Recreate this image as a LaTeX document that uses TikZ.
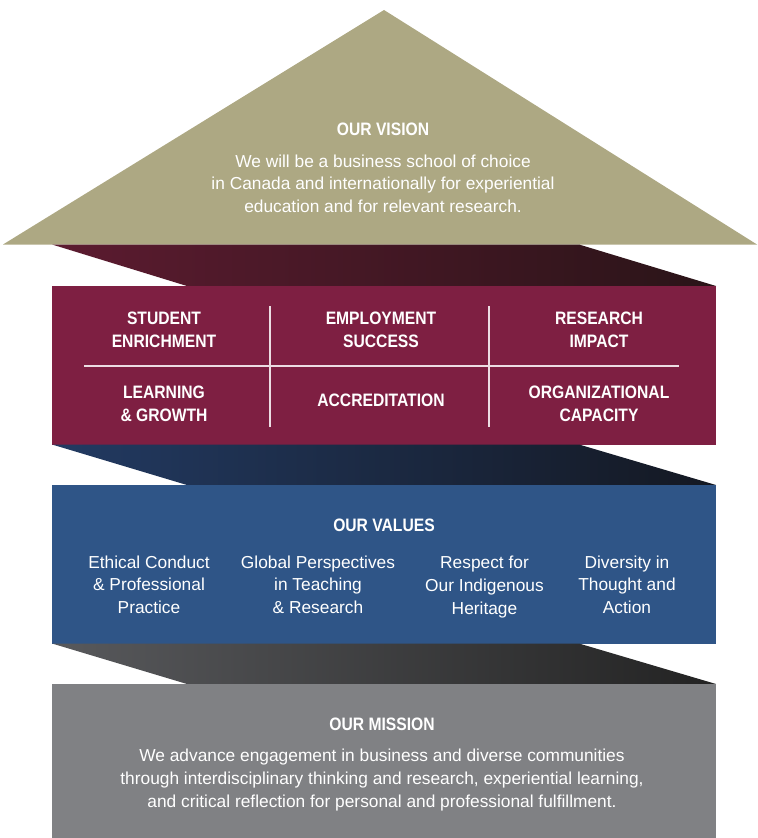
\documentclass[tikz,border=0pt]{standalone}
\usepackage{fontspec}
\setmainfont{Liberation Sans}
\newfontfamily\headfont[FakeStretch=0.87]{Liberation Sans}
\usepackage{tikz}

\definecolor{visiongold}{RGB}{173,168,131}
\definecolor{goalmaroon}{RGB}{126,31,66}
\definecolor{valueblue}{RGB}{47,85,135}
\definecolor{missiongrey}{RGB}{128,129,132}

\tikzset{
	headtext/.style={text=white,font=\headfont\bfseries\fontsize{13.5}{17.5}\selectfont,align=center,inner sep=0pt},
	bodytext/.style={text=white,font=\fontsize{13}{16.9}\selectfont,align=center,inner sep=0pt},
	gridline/.style={draw=white!85!goalmaroon,line width=0.8pt}
}

\begin{document}
\begin{tikzpicture}[x=0.75pt,y=0.75pt,yscale=-1,xscale=1]
	\useasboundingbox (0,0) rectangle (757,838);
	
	%Shape: Triangle [id:vision]
	\fill [visiongold] (384,10) -- (757,244.5) -- (3,244.5) -- cycle ;
	%Shape: Parallelogram [id:band1]
	\shade [left color={rgb,255:red,92;green,27;blue,48}, middle color={rgb,255:red,67;green,15;blue,32}, right color={rgb,255:red,42;green,20;blue,24}] (52,244.5) -- (579,244.5) -- (716,286) -- (187,286) -- cycle ;
	%Shape: Rectangle [id:goals]
	\fill [goalmaroon] (52,286) rectangle (716,444.5) ;
	%Straight Lines [id:grid]
	\draw [gridline] (270,306) -- (270,427) ;
	\draw [gridline] (489,306) -- (489,427) ;
	\draw [gridline] (84,366) -- (679,366) ;
	%Shape: Parallelogram [id:band2]
	\shade [left color={rgb,255:red,34;green,58;blue,98}, middle color={rgb,255:red,11;green,26;blue,56}, right color={rgb,255:red,20;green,24;blue,34}] (52,444.5) -- (579,444.5) -- (716,485) -- (187,485) -- cycle ;
	%Shape: Rectangle [id:values]
	\fill [valueblue] (52,485) rectangle (716,643.5) ;
	%Shape: Parallelogram [id:band3]
	\shade [left color={rgb,255:red,88;green,89;blue,92}, middle color={rgb,255:red,56;green,56;blue,58}, right color={rgb,255:red,35;green,35;blue,35}] (52,643.5) -- (579,643.5) -- (716,684) -- (187,684) -- cycle ;
	%Shape: Rectangle [id:mission]
	\fill [missiongrey] (52,684) rectangle (716,838) ;
	
	% Text Node
	\draw (383,129) node (visionhead) [headtext] {OUR VISION};
	% Text Node
	\draw (383,183.5) node (visionbody) [bodytext] {We will be a business school of choice\\in Canada and internationally for experiential\\education and for relevant research.};
	% Text Node
	\draw (164,330) node (enrich) [headtext] {STUDENT\\ENRICHMENT};
	% Text Node
	\draw (381,330) node (employ) [headtext] {EMPLOYMENT\\SUCCESS};
	% Text Node
	\draw (599,330) node (research) [headtext] {RESEARCH\\IMPACT};
	% Text Node
	\draw (164,404) node (learning) [headtext] {LEARNING\\\& GROWTH};
	% Text Node
	\draw (381,400) node (accred) [headtext] {ACCREDITATION};
	% Text Node
	\draw (599,404) node (capacity) [headtext] {ORGANIZATIONAL\\CAPACITY};
	% Text Node
	\draw (384,525) node (valueshead) [headtext] {OUR VALUES};
	% Text Node
	\draw (149,584.5) node (ethics) [bodytext] {Ethical Conduct\\\& Professional\\Practice};
	% Text Node
	\draw (318,584.5) node (global) [bodytext] {Global Perspectives\\in Teaching\\\& Research};
	% Text Node
	\draw (484.5,587) node (heritage) [bodytext] {Respect for\\Our Indigenous\\Heritage};
	% Text Node
	\draw (627,584.5) node (diversity) [bodytext] {Diversity in\\Thought and\\Action};
	% Text Node
	\draw (382,724) node (missionhead) [headtext] {OUR MISSION};
	% Text Node
	\draw (382,780) node (missionbody) [bodytext] {We advance engagement in business and diverse communities\\through interdisciplinary thinking and research, experiential learning,\\and critical reflection for personal and professional fulfillment.};
	
\end{tikzpicture}
\end{document}
